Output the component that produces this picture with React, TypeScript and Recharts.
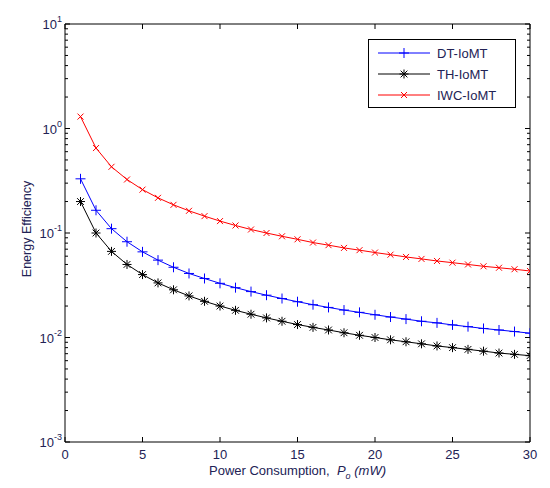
import React from 'react';
import { LineChart, Line, XAxis, YAxis, Legend } from 'recharts';

const power = [1, 2, 3, 4, 5, 6, 7, 8, 9, 10, 11, 12, 13, 14, 15, 16, 17, 18, 19, 20, 21, 22, 23, 24, 25, 26, 27, 28, 29, 30];
const dtIomt = [0.33, 0.165, 0.11, 0.0825, 0.066, 0.055, 0.047, 0.041, 0.0367, 0.033, 0.03, 0.0275, 0.0254, 0.0236, 0.022, 0.0206, 0.0194, 0.0183, 0.0174, 0.0165, 0.0157, 0.015, 0.0143, 0.0138, 0.0132, 0.0127, 0.0122, 0.0118, 0.0114, 0.011];
const thIomt = [0.2, 0.1, 0.0667, 0.05, 0.04, 0.0333, 0.0286, 0.025, 0.0222, 0.02, 0.0182, 0.0167, 0.0154, 0.0143, 0.0133, 0.0125, 0.0118, 0.0111, 0.0105, 0.01, 0.0095, 0.0091, 0.0087, 0.0083, 0.008, 0.0077, 0.0074, 0.0071, 0.0069, 0.0067];
const iwcIomt = [1.3, 0.65, 0.43, 0.325, 0.26, 0.217, 0.186, 0.163, 0.145, 0.13, 0.118, 0.108, 0.1, 0.093, 0.087, 0.081, 0.0765, 0.072, 0.0685, 0.065, 0.062, 0.059, 0.0565, 0.054, 0.052, 0.05, 0.048, 0.0465, 0.045, 0.0433];

const xTicks = [0, 5, 10, 15, 20, 25, 30];
const decades = [0.001, 0.01, 0.1, 1, 10];
const exponents = [-3, -2, -1, 0, 1];
// minor ticks 2..9 inside each decade
const yTicks: number[] = [];
decades.forEach((d, i) => {
  yTicks.push(d);
  if (i < decades.length - 1) for (let m = 2; m <= 9; m++) yTicks.push(+(d * m).toPrecision(3));
});

const data = power.map((p, i) => ({ p, dt: dtIomt[i], th: thIomt[i], iwc: iwcIomt[i] }));

const FONT = '"Liberation Sans", Arial, sans-serif';
const TXT = '#222255';

const majorIdx = (v: number) => decades.findIndex((d) => Math.abs(d - v) / d < 1e-6);

const LeftTick = (props: any) => {
  const { x, y, payload } = props;
  const k = majorIdx(payload.value);
  if (k < 0) return <line x1={x} x2={x + 3} y1={y} y2={y} stroke="#000" />;
  return (
    <g>
      <line x1={x} x2={x + 5} y1={y} y2={y} stroke="#000" />
      <text x={x - 3} y={y + 5} textAnchor="end" fontFamily={FONT} fontSize={13} fill={TXT}>
        <tspan>10</tspan>
        <tspan dy={-7} fontSize={9}>{exponents[k]}</tspan>
      </text>
    </g>
  );
};

const RightTick = (props: any) => {
  const { x, y, payload } = props;
  const len = majorIdx(payload.value) < 0 ? 3 : 5;
  return <line x1={x} x2={x - len} y1={y} y2={y} stroke="#000" />;
};

const BottomTick = (props: any) => {
  const { x, y, payload } = props;
  return (
    <g>
      <line x1={x} x2={x} y1={y} y2={y - 5} stroke="#000" />
      <text x={x} y={y + 17} textAnchor="middle" fontFamily={FONT} fontSize={13} fill={TXT}>
        {payload.value}
      </text>
    </g>
  );
};

const TopTick = (props: any) => {
  const { x, y } = props;
  return <line x1={x} x2={x} y1={y} y2={y + 5} stroke="#000" />;
};

const XLabel = (props: any) => {
  const { x, y, width } = props.viewBox;
  return (
    <text x={x + width / 2} y={y + 33} textAnchor="middle" fontFamily={FONT} fontSize={13} fill={TXT} style={{ whiteSpace: 'pre' }}>
      <tspan>{'Power Consumption,  '}</tspan>
      <tspan fontStyle="italic">P</tspan>
      <tspan fontStyle="italic" fontSize={9} dy={4}>o</tspan>
      <tspan fontStyle="italic" dy={-4}>{' (mW)'}</tspan>
    </text>
  );
};

const YLabel = (props: any) => {
  const { y, height } = props.viewBox;
  const cy = y + height / 2 - 4;
  return (
    <text x={31} y={cy} transform={`rotate(-90 31 ${cy})`} textAnchor="middle" fontFamily={FONT} fontSize={12.5} fill={TXT}>
      Energy Efficiency
    </text>
  );
};

const PlusMark = ({ cx, cy, s, color }: any) => (
  <path d={`M${cx - s},${cy}H${cx + s}M${cx},${cy - s}V${cy + s}`} stroke={color} strokeWidth={1} fill="none" />
);
const CrossMark = ({ cx, cy, s, color }: any) => (
  <path d={`M${cx - s},${cy - s}L${cx + s},${cy + s}M${cx - s},${cy + s}L${cx + s},${cy - s}`} stroke={color} strokeWidth={1} fill="none" />
);
const StarMark = ({ cx, cy, s, color }: any) => (
  <g>
    <PlusMark cx={cx} cy={cy} s={s} color={color} />
    <CrossMark cx={cx} cy={cy} s={s * 0.75} color={color} />
  </g>
);

const series = [
  { key: 'dt', name: 'DT-IoMT', color: '#0000ff', Mark: PlusMark, size: 5 },
  { key: 'th', name: 'TH-IoMT', color: '#000000', Mark: StarMark, size: 4.5 },
  { key: 'iwc', name: 'IWC-IoMT', color: '#ff0000', Mark: CrossMark, size: 3 },
];

const LegendBox = () => (
  <div style={{ width: 148, height: 69, border: '1px solid #000', background: '#fff', boxSizing: 'border-box', fontFamily: FONT, fontSize: 13, color: TXT }}>
    {series.map((s, i) => (
      <div key={s.key} style={{ position: 'absolute', left: 10, top: 6 + i * 21, height: 16, display: 'flex', alignItems: 'center' }}>
        <svg width={52} height={16}>
          <line x1={0} x2={52} y1={8} y2={8} stroke={s.color} strokeWidth={1} />
          <s.Mark cx={26} cy={8} s={s.size} color={s.color} />
        </svg>
        <span style={{ marginLeft: 7 }}>{s.name}</span>
      </div>
    ))}
  </div>
);

export default function App() {
  return (
    <div style={{ position: 'absolute', left: 0, top: 0, background: '#fff' }}>
      <LineChart width={550} height={488} data={data} margin={{ top: 4, right: 0, bottom: 0, left: 0 }}>
        <XAxis
          xAxisId="b"
          dataKey="p"
          type="number"
          domain={[0, 30]}
          ticks={xTicks}
          interval={0}
          height={46}
          tickSize={0}
          tickMargin={0}
          tickLine={false}
          tick={<BottomTick />}
          axisLine={{ stroke: '#000' }}
          allowDataOverflow
          label={<XLabel />}
        />
        <XAxis
          xAxisId="t"
          orientation="top"
          dataKey="p"
          type="number"
          domain={[0, 30]}
          ticks={xTicks}
          interval={0}
          height={20}
          tickSize={0}
          tickMargin={0}
          tickLine={false}
          tick={<TopTick />}
          axisLine={{ stroke: '#000' }}
          allowDataOverflow
        />
        <YAxis
          yAxisId="l"
          scale="log"
          type="number"
          domain={[0.001, 10]}
          ticks={yTicks}
          interval={0}
          width={65}
          tickSize={0}
          tickMargin={0}
          tickLine={false}
          tick={<LeftTick />}
          axisLine={{ stroke: '#000' }}
          allowDataOverflow
          label={<YLabel />}
        />
        <YAxis
          yAxisId="r"
          orientation="right"
          scale="log"
          type="number"
          domain={[0.001, 10]}
          ticks={yTicks}
          interval={0}
          width={20}
          tickSize={0}
          tickMargin={0}
          tickLine={false}
          tick={<RightTick />}
          axisLine={{ stroke: '#000' }}
          allowDataOverflow
        />
        <Legend
          layout="vertical"
          align="center"
          verticalAlign="middle"
          content={<LegendBox />}
          wrapperStyle={{ top: 39, left: 368, width: 148, height: 69 }}
        />
        {series.map((s) => (
          <Line
            key={s.key}
            xAxisId="b"
            yAxisId="l"
            dataKey={s.key}
            name={s.name}
            stroke={s.color}
            strokeWidth={1}
            type="linear"
            isAnimationActive={false}
            dot={(p: any) => <s.Mark key={`${s.key}-${p.index}`} cx={p.cx} cy={p.cy} s={s.size} color={s.color} />}
            activeDot={false}
          />
        ))}
      </LineChart>
    </div>
  );
}
